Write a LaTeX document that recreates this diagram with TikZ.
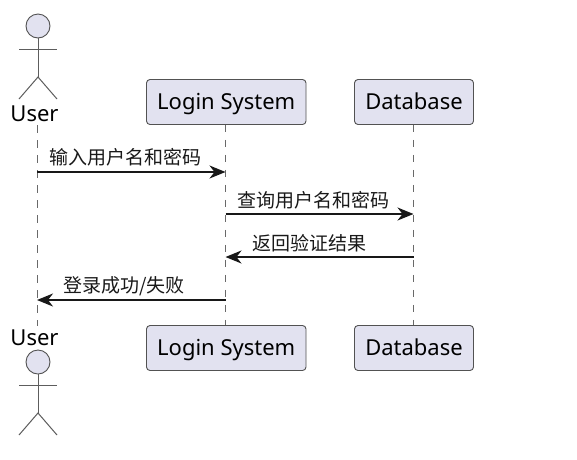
\documentclass[tikz,border=0pt]{standalone}
\usepackage{fontspec}
\setmainfont{Noto Sans}
\newfontfamily\cjk{Noto Sans CJK SC}
\usetikzlibrary{arrows.meta}
\definecolor{pfill}{HTML}{E2E2F0}
\definecolor{pline}{HTML}{181818}
\tikzset{
  x=1pt,y=-1pt,
  part/.style={draw=pline!75,line width=0.9pt,fill=pfill,rounded corners=3.5pt,minimum height=45pt,inner sep=0pt,font=\fontsize{22}{26}\selectfont,text=black,text height=20pt,text depth=5pt},
  actorlabel/.style={inner sep=0pt,font=\fontsize{22}{26}\selectfont,text=black},
  lifeline/.style={draw=pline!65,line width=1pt,dash pattern=on 7.5pt off 7.5pt},
  actorline/.style={draw=pline!70,line width=1pt},
  head/.style={circle,draw=pline!75,line width=0.9pt,fill=pfill,minimum size=24pt,inner sep=0pt},
  msg/.style={draw=pline,line width=1.5pt,-{Stealth[length=16pt,width=13pt,inset=5pt]}},
  msgtext/.style={inner sep=0pt,font=\cjk\fontsize{19}{22}\selectfont,text=black!90}
}
\begin{document}
\begin{tikzpicture}
\useasboundingbox (0,0) rectangle (577,459);
\fill[white] (0,0) rectangle (577,459);
\node[actorlabel] (usertop) at (34.5,114) {User};
\node[actorlabel] (userbot) at (34.5,338) {User};
\node[part,minimum width=159.5pt] (logintop) at (226.25,102) {Login System};
\node[part,minimum width=119pt] (dbtop) at (414,102) {Database};
\node[part,minimum width=159.5pt] (loginbot) at (226.25,348) {Login System};
\node[part,minimum width=119pt] (dbbot) at (414,348) {Database};
\draw[lifeline] (usertop.south -| 37,0) ++(0,3) coordinate (ua) -- (37,326) coordinate (ub);
\draw[lifeline] (logintop.south -| 225.5,0) -- (loginbot.north -| 225.5,0);
\draw[lifeline] (dbtop.south -| 413.5,0) -- (dbbot.north -| 413.5,0);
\node[head] (headtop) at (38,26) {};
\coordinate (hiptop) at (38,77);
\coordinate (armLtop) at (19,49);
\coordinate (armRtop) at (57,49);
\coordinate (legLtop) at (19,99);
\coordinate (legRtop) at (57,99);
\draw[actorline] (headtop.south) -- (hiptop);
\draw[actorline] (armLtop) -- (armRtop);
\draw[actorline] (legLtop) -- (hiptop) -- (legRtop);
\node[head] (headbot) at (38,362) {};
\coordinate (hipbot) at (38,413);
\coordinate (armLbot) at (19,385);
\coordinate (armRbot) at (57,385);
\coordinate (legLbot) at (19,435);
\coordinate (legRbot) at (57,435);
\draw[actorline] (headbot.south) -- (hipbot);
\draw[actorline] (armLbot) -- (armRbot);
\draw[actorline] (legLbot) -- (hipbot) -- (legRbot);
\coordinate (u1) at (37,172);
\coordinate (l1) at (225.5,172);
\coordinate (l2) at (225.5,214);
\coordinate (d2) at (413.5,214);
\coordinate (d3) at (413.5,257);
\coordinate (l3) at (225.5,257);
\coordinate (l4) at (225.5,300);
\coordinate (u4) at (37,300);
\draw[msg] (u1) -- (l1);
\draw[msg] (l2) -- (d2);
\draw[msg] (d3) -- (l3);
\draw[msg] (l4) -- (u4);
\node[msgtext] (m1) at (125,157) {输入用户名和密码};
\node[msgtext] (m2) at (313,200) {查询用户名和密码};
\node[msgtext] (m3) at (309,243.5) {返回验证结果};
\node[msgtext,anchor=west] (m4) at (63,286) {登录成功/失败};
\end{tikzpicture}
\end{document}
